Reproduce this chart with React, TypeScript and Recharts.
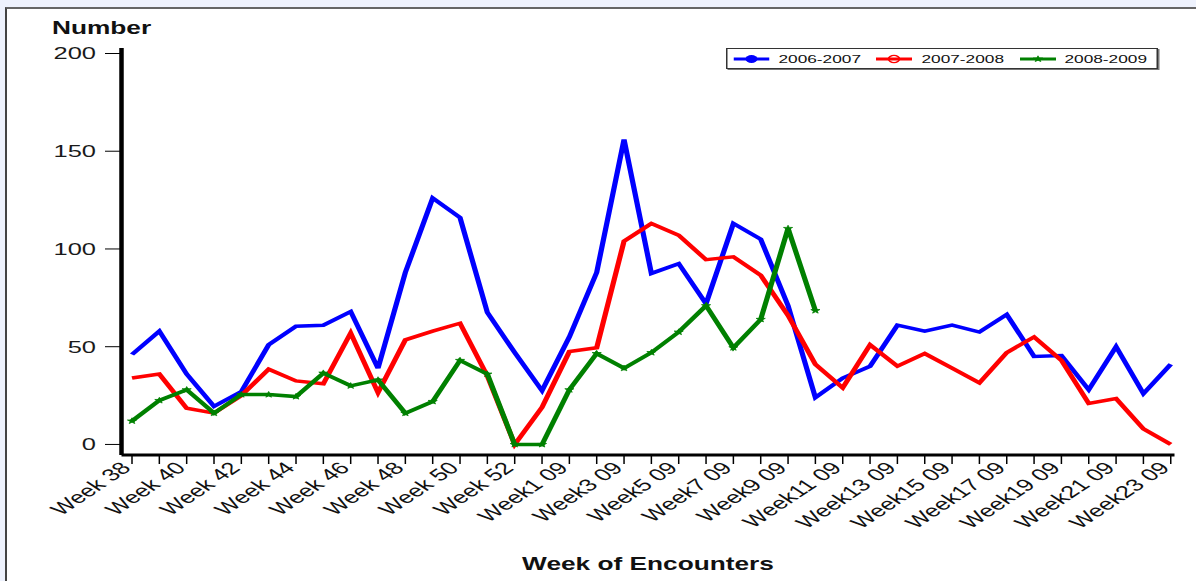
import { LineChart, Line, XAxis, YAxis, Legend } from 'recharts';

const weeks = [
  'Week 38', 'Week 39', 'Week 40', 'Week 41', 'Week 42', 'Week 43', 'Week 44', 'Week 45',
  'Week 46', 'Week 47', 'Week 48', 'Week 49', 'Week 50', 'Week 51', 'Week 52', 'Week 53',
  'Week1 09', 'Week2 09', 'Week3 09', 'Week4 09', 'Week5 09', 'Week6 09', 'Week7 09', 'Week8 09',
  'Week9 09', 'Week10 09', 'Week11 09', 'Week12 09', 'Week13 09', 'Week14 09', 'Week15 09',
  'Week16 09', 'Week17 09', 'Week18 09', 'Week19 09', 'Week20 09', 'Week21 09', 'Week22 09',
  'Week23 09',
];

const season0607 = [
  46, 58, 36, 19.5, 27, 51, 60.5, 61, 68, 39, 88, 126, 116, 67.5, 47, 27.5,
  55, 88, 156, 87.5, 92.5, 72, 113, 105, 71, 24, 34, 40, 61, 58, 61,
  57.5, 66.5, 45, 45.5, 28, 50, 26, 41,
];

const season0708 = [
  34, 36, 18.5, 16, 25, 38.5, 32.5, 31, 57, 26.5, 53.5, 58, 62, 35, 0, 19,
  47.5, 49.5, 104, 113, 107, 94.5, 96, 86.5, 66, 41, 29, 51, 40, 46.5, 39,
  31.5, 47, 55, 43, 21, 23.5, 8, 0,
];

const season0809 = [
  12, 22.5, 28, 16, 25.5, 25.5, 24.5, 36.5, 30, 33, 16, 22, 43, 36, 0, 0,
  28, 46.5, 39, 47, 57.5, 71, 49.5, 64, 110.5, 68.5, null, null, null, null, null,
  null, null, null, null, null, null, null, null,
];

const yTicks = [0, 50, 100, 150, 200];

const data = weeks.map((week, i) => ({
  week,
  s0607: season0607[i],
  s0708: season0708[i],
  s0809: season0809[i],
}));

const FONT = '"Liberation Sans", Arial, sans-serif';
// the original image is stretched sideways, so the whole chart is drawn narrow and scaled
const SX = 1.5;

function WeekTick(props: any) {
  const { x, y, payload, index } = props;
  if (index % 2 === 1) return <g />;
  return (
    <g transform={`translate(${x},${y + 3})`}>
      <text
        textAnchor="end"
        transform="rotate(-45)"
        fontSize={17}
        fontFamily={FONT}
        fill="#111"
      >
        {payload.value}
      </text>
    </g>
  );
}

function StarDot({ cx, cy }: { cx?: number; cy?: number }) {
  if (cx == null || cy == null) return null;
  const pts: string[] = [];
  for (let k = 0; k < 10; k++) {
    const r = k % 2 ? 1.3 : 3.2;
    const a = -Math.PI / 2 + (k * Math.PI) / 5;
    pts.push(`${cx + r * Math.cos(a)},${cy + r * Math.sin(a)}`);
  }
  return <polygon points={pts.join(' ')} fill="#008000" stroke="#008000" strokeWidth={0.6} />;
}

function LegendIcon({ dataKey, color }: { dataKey: string; color: string }) {
  return (
    <svg width={24} height={12} style={{ display: 'block' }}>
      <line x1={0} y1={6} x2={24} y2={6} stroke={color} strokeWidth={3} />
      {dataKey === 's0607' && <circle cx={12} cy={6} r={4} fill={color} />}
      {dataKey === 's0708' && <circle cx={12} cy={6} r={3.6} fill="none" stroke={color} strokeWidth={1.2} />}
      {dataKey === 's0809' && <StarDot cx={12} cy={6} />}
    </svg>
  );
}

function LegendBox(props: any) {
  const items = props.payload || [];
  return (
    <div
      style={{
        width: 286,
        height: 19,
        border: '1px solid #333',
        boxShadow: '1px 1px 0 #777',
        background: '#fff',
        display: 'flex',
        alignItems: 'center',
        fontFamily: FONT,
        fontSize: 11.5,
        color: '#111',
      }}
    >
      {items.map((it: any) => (
        <div
          key={it.value}
          style={{ width: 99, display: 'flex', alignItems: 'center', paddingLeft: 4, boxSizing: 'border-box' }}
        >
          <LegendIcon dataKey={it.dataKey} color={it.color} />
          <span style={{ marginLeft: 6 }}>{it.value}</span>
        </div>
      ))}
    </div>
  );
}

export default function App() {
  return (
    <div
      style={{
        position: 'absolute',
        left: 0,
        top: 0,
        width: 1196,
        height: 581,
        overflow: 'hidden',
        background: '#eef2fd',
      }}
    >
      <div
        style={{
          position: 'absolute',
          left: 5,
          top: 7,
          right: 0,
          bottom: 0,
          background: '#fff',
          borderLeft: '2px solid #444',
          borderTop: '2px solid #666',
        }}
      />
      <div style={{ position: 'absolute', left: 0, top: 0, transform: `scaleX(${SX})`, transformOrigin: '0 0' }}>
        <LineChart width={797} height={581} data={data} margin={{ top: 48, right: 14, bottom: 0, left: 20 }}>
          <XAxis
            dataKey="week"
            interval={0}
            tick={<WeekTick />}
            tickSize={9}
            tickMargin={2}
            height={126}
            padding={{ left: 7, right: 2.5 }}
            axisLine={{ stroke: '#000', strokeWidth: 3 }}
            tickLine={{ stroke: '#000', strokeWidth: 1 }}
            label={{
              value: 'Week of Encounters',
              position: 'insideBottom',
              offset: 11,
              fontSize: 17.5,
              fontWeight: 'bold',
              fontFamily: FONT,
              fill: '#111',
            }}
          />
          <YAxis
            type="number"
            domain={[-5.4, 202.8]}
            ticks={yTicks}
            interval={0}
            width={61}
            tickSize={11}
            tickMargin={6}
            axisLine={{ stroke: '#000', strokeWidth: 3 }}
            tickLine={{ stroke: '#000', strokeWidth: 1 }}
            tick={{ fontSize: 17, fill: '#1a1a1a', fontFamily: FONT }}
            label={{
              content: (p: any) => (
                <text
                  x={p.viewBox.x + 14.7}
                  y={p.viewBox.y - 14}
                  fontSize={17.5}
                  fontWeight="bold"
                  fontFamily={FONT}
                  fill="#111"
                >
                  Number
                </text>
              ),
            }}
          />
          <Legend
            verticalAlign="middle"
            align="center"
            content={<LegendBox />}
            wrapperStyle={{ position: 'absolute', left: 484, top: 48, width: 'auto' }}
          />
          <Line
            name="2006-2007"
            dataKey="s0607"
            stroke="#0000ff"
            strokeWidth={3.5}
            dot={false}
            isAnimationActive={false}
          />
          <Line
            name="2007-2008"
            dataKey="s0708"
            stroke="#ff0000"
            strokeWidth={3.5}
            dot={false}
            isAnimationActive={false}
          />
          <Line
            name="2008-2009"
            dataKey="s0809"
            stroke="#008000"
            strokeWidth={3.5}
            dot={(p: any) => <StarDot key={p.index} cx={p.cx} cy={p.cy} />}
            isAnimationActive={false}
          />
        </LineChart>
      </div>
    </div>
  );
}
